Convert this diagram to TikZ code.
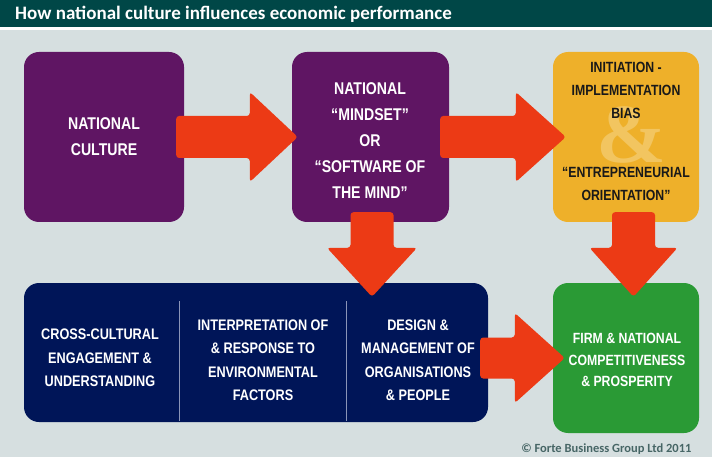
\documentclass[tikz,border=0pt]{standalone}
\usepackage{fontspec}
\setmainfont{Liberation Sans}
\newfontfamily\narrowfont{Liberation Sans}[FakeStretch=0.83]
\newfontfamily\calib{Carlito}
\newfontfamily\serifamp{Liberation Serif}
\usetikzlibrary{calc}
\definecolor{titlebar}{HTML}{004747}
\definecolor{bggray}{HTML}{D6DFE0}
\definecolor{cpurple}{HTML}{5F1563}
\definecolor{corange}{HTML}{EEB02A}
\definecolor{campers}{HTML}{F2C560}
\definecolor{cnavy}{HTML}{001558}
\definecolor{cgreen}{HTML}{2A9A35}
\definecolor{cred}{HTML}{EC3A15}
\definecolor{cdivider}{HTML}{8A94B8}
\definecolor{ccopy}{HTML}{476666}
\newcommand\harrowshape[5]{%
  \fill[blockarrow] ($#1+(0,-#3)$) -- ($#2+(-#4,-#3)$) -- ($#2+(-#4,-#5)$) -- #2
    -- ($#2+(-#4,#5)$) -- ($#2+(-#4,#3)$) -- ($#1+(0,#3)$) -- cycle;}
\newcommand\varrowshape[5]{%
  \fill[blockarrow] ($#1+(-#3,0)$) -- ($#2+(-#3,-#4)$) -- ($#2+(-#5,-#4)$) -- #2
    -- ($#2+(#5,-#4)$) -- ($#2+(#3,-#4)$) -- ($#1+(#3,0)$) -- cycle;}
\begin{document}
\begin{tikzpicture}[x=1pt,y=-1pt,
  box/.style={rounded corners=15pt, inner sep=0pt},
  blockarrow/.style={fill=cred, rounded corners=3pt},
  maintext/.style={align=center, text=white, font=\narrowfont\bfseries\fontsize{17}{26}\selectfont},
  orangetext/.style={align=center, text=black!90, font=\narrowfont\bfseries\fontsize{14.8}{23}\selectfont},
  bottomtext/.style={align=center, text=white, font=\narrowfont\bfseries\fontsize{15.3}{23.5}\selectfont},
  greentext/.style={align=center, text=white, font=\narrowfont\bfseries\fontsize{14.8}{21.5}\selectfont},
  divider/.style={draw=cdivider, line width=1pt}
]
\useasboundingbox (0,0) rectangle (712,457);
\fill[white] (0,0) rectangle (712,457);
\fill[bggray] (0,30) rectangle (712,457);
\fill[titlebar] (0,0) rectangle (712,27);
\node[anchor=west, text=white, font=\calib\bfseries\fontsize{19}{20}\selectfont, inner sep=0pt] (title) at (15,14.5) {How national culture influences economic performance};

% boxes
\node[box, fill=cpurple, minimum width=160pt, minimum height=170pt] (culture) at (104,137) {};
\node[box, fill=cpurple, minimum width=157pt, minimum height=170pt] (mindset) at (370.5,137) {};
\node[box, fill=corange, minimum width=146pt, minimum height=170pt] (orange) at (626,137) {};
\node[box, fill=cnavy, minimum width=464pt, minimum height=139pt] (navy) at (256,352.5) {};
\node[box, fill=cgreen, minimum width=146pt, minimum height=150pt] (green) at (626,358) {};

% ampersand watermark
\node[text=campers, font=\serifamp\bfseries\fontsize{84}{84}\selectfont, inner sep=0pt] (amp) at (631,135) {\&};

% texts
\node[maintext] (t1) at (104,137) {NATIONAL\\CULTURE};
\node[maintext] (t2) at (370,140.5) {NATIONAL\\“MINDSET”\\OR\\“SOFTWARE OF\\THE MIND”};
\node[orangetext] (t3) at (626,131) {INITIATION -\\IMPLEMENTATION\\BIAS\\[36pt]“ENTREPRENEURIAL\\ORIENTATION”};
\node[bottomtext] (b1) at (100,358) {CROSS-CULTURAL\\ENGAGEMENT \&\\UNDERSTANDING};
\node[bottomtext] (b2) at (263,360) {INTERPRETATION OF\\\& RESPONSE TO\\ENVIRONMENTAL\\FACTORS};
\node[bottomtext] (b3) at (418,360) {DESIGN \&\\MANAGEMENT OF\\ORGANISATIONS\\\& PEOPLE};
\node[greentext] (g1) at (627,360) {FIRM \& NATIONAL\\COMPETITIVENESS\\\& PROSPERITY};

% dividers
\coordinate (d1a) at (179,301); \coordinate (d1b) at (179,421);
\coordinate (d2a) at (346,301); \coordinate (d2b) at (346,421);
\draw[divider] (d1a) -- (d1b);
\draw[divider] (d2a) -- (d2b);

% arrows
\harrowshape{([xshift=-8pt]culture.east)}{([xshift=6pt]mindset.west)}{21}{48}{45}
\harrowshape{([xshift=-9pt]mindset.east)}{([xshift=13pt]orange.west)}{21}{50}{45}
\harrowshape{($(navy.east |- green.west)+(-8,0)$)}{([xshift=12pt]green.west)}{20.5}{50}{45}
\varrowshape{($(mindset.south)+(1.5,-10)$)}{($(mindset.south |- navy.north)+(1.5,14)$)}{21.5}{49}{45}
\varrowshape{($(orange.south)+(7.5,-10)$)}{($(orange.south |- green.north)+(7.5,14)$)}{21.5}{49}{44}

\node[anchor=east, text=ccopy, font=\calib\bfseries\fontsize{12.5}{14}\selectfont] (copy) at (695,449) {© Forte Business Group Ltd 2011};
\end{tikzpicture}
\end{document}
